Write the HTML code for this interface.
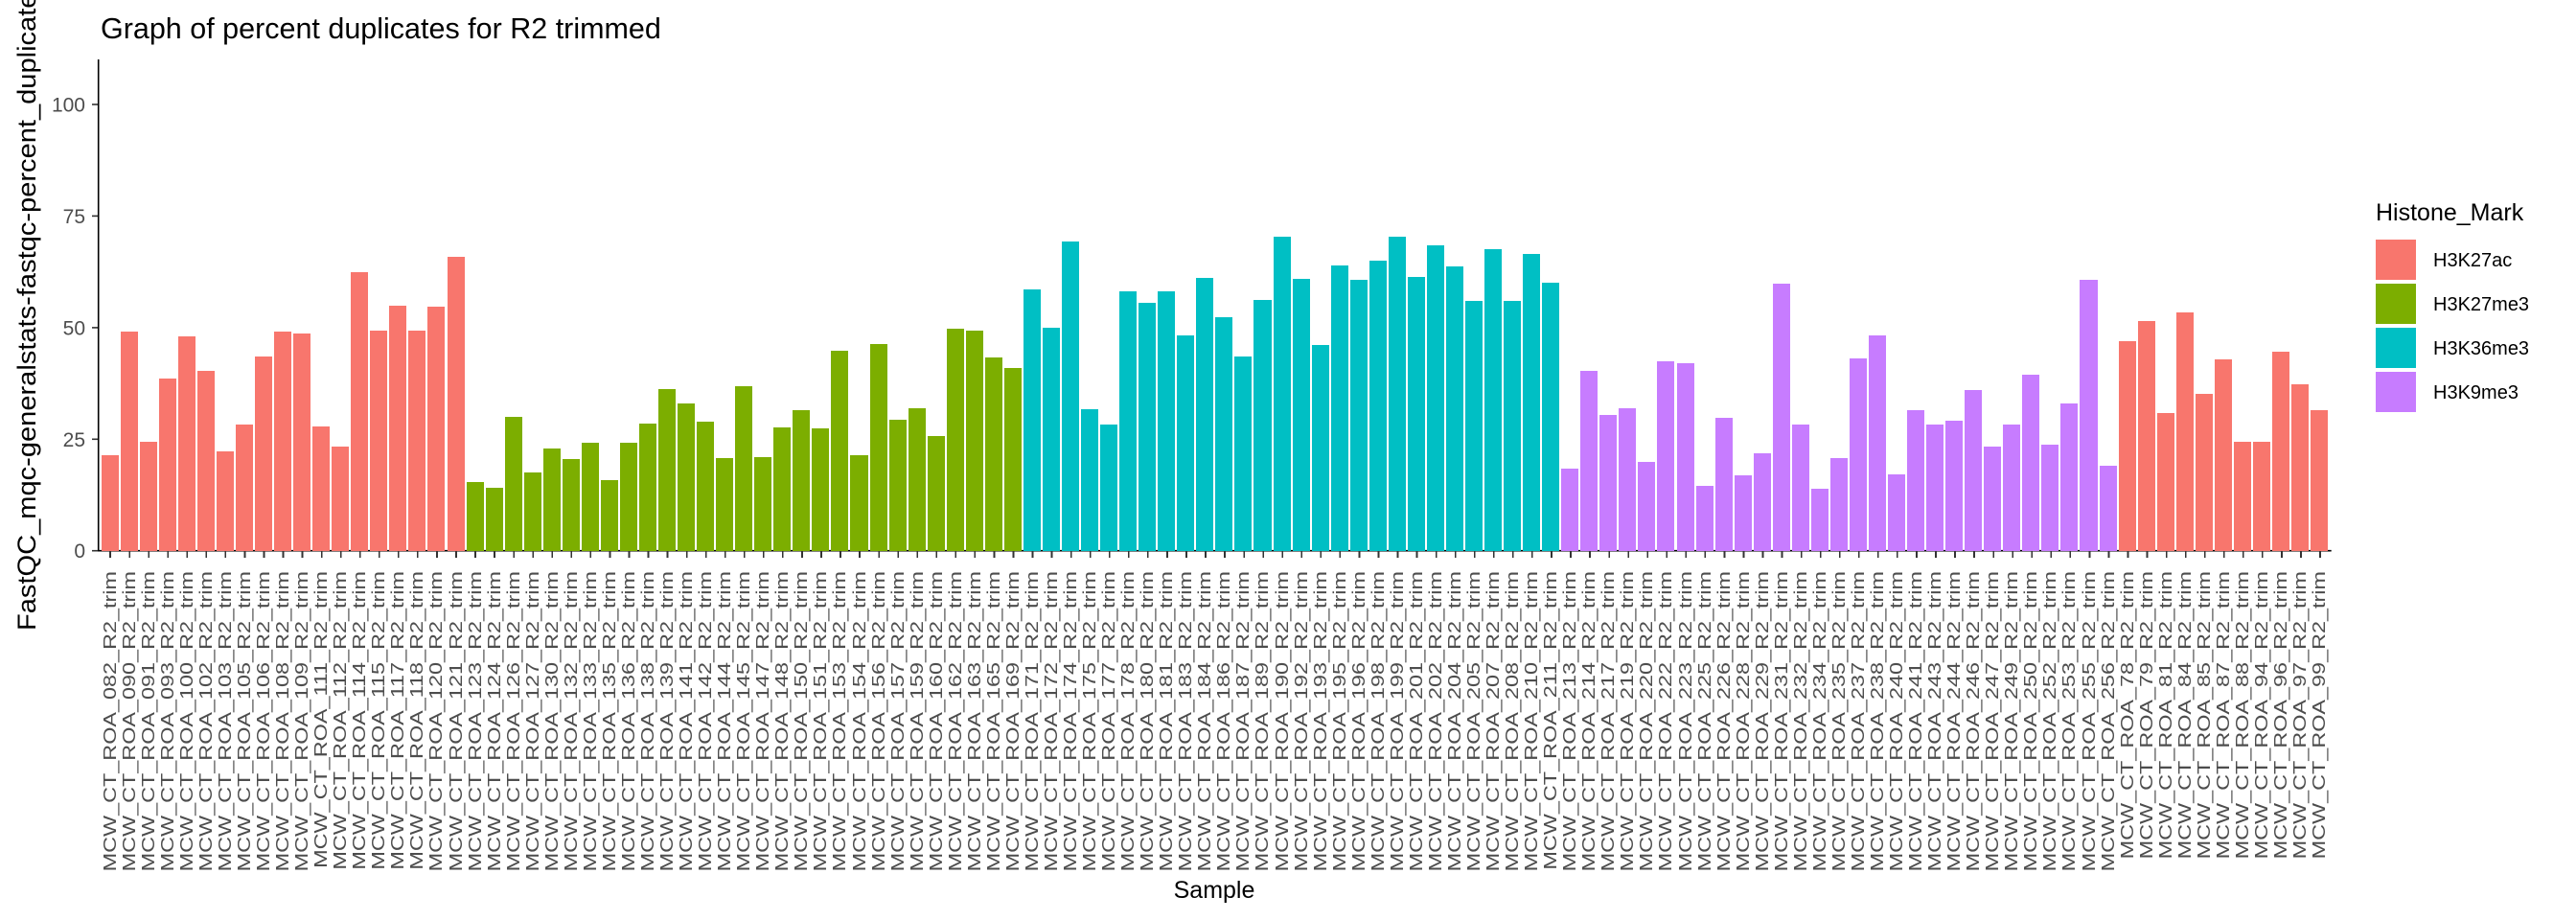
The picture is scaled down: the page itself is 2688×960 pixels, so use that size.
<!DOCTYPE html>
<html><head><meta charset="utf-8">
<style>
html,body{margin:0;padding:0;background:#fff;}
body{width:2688px;height:960px;position:relative;overflow:hidden;font-family:"Liberation Sans",Arial,sans-serif;}
svg{position:absolute;left:0;top:0;}
#bars{position:absolute;left:104.67px;top:109px;width:2326px;height:465.7px;display:flex;align-items:flex-end;}
#bars div{flex:1 1 0;height:100%;display:flex;align-items:flex-end;justify-content:center;}
#bars i{display:block;width:90%;}
.a i{background:#F8766D}.g i{background:#7CAE00}.c i{background:#00BFC4}.p i{background:#C77CFF}
#ticks{position:absolute;left:104.67px;top:575px;width:2326px;height:7px;background:repeating-linear-gradient(to right,transparent 0,transparent 9.2px,#333 9.2px,#333 10.9px,transparent 10.9px,transparent 20.052px);}
#labs{position:absolute;left:104.67px;top:596px;width:2326px;height:0;display:flex;}
#labs div{flex:1 1 0;position:relative;}
#labs span{position:absolute;left:50%;top:0;transform-origin:0 0;transform:rotate(-90deg) scaleX(1.3) translate(-100%,-50%);white-space:nowrap;font-size:18px;line-height:18px;color:#4D4D4D;}
</style></head><body>
<svg width="2688" height="960" xmlns="http://www.w3.org/2000/svg" font-family="Liberation Sans, Arial, sans-serif">
<text x="105" y="40" font-size="30.5" fill="#000">Graph of percent duplicates for R2 trimmed</text>
<line x1="102.7" y1="62" x2="102.7" y2="575.5" stroke="#000" stroke-width="1.6"/>
<line x1="102" y1="574.7" x2="2432.7" y2="574.7" stroke="#000" stroke-width="1.6"/>
<g stroke="#333" stroke-width="1.6">
<line x1="96" y1="109" x2="102" y2="109"/><line x1="96" y1="225.4" x2="102" y2="225.4"/><line x1="96" y1="341.9" x2="102" y2="341.9"/><line x1="96" y1="458.3" x2="102" y2="458.3"/><line x1="96" y1="574.7" x2="102" y2="574.7"/>
</g>
<g font-size="21" fill="#4D4D4D" text-anchor="end">
<text x="89" y="116.5">100</text><text x="89" y="232.9">75</text><text x="89" y="349.4">50</text><text x="89" y="465.8">25</text><text x="89" y="582.2">0</text>
</g>
<text transform="translate(37,318) rotate(-90)" text-anchor="middle" font-size="27" textLength="680" lengthAdjust="spacingAndGlyphs" fill="#000">FastQC_mqc-generalstats-fastqc-percent_duplicates</text>
<text x="1267" y="937" text-anchor="middle" font-size="25" fill="#000">Sample</text>
<text x="2479" y="230" font-size="25" fill="#000">Histone_Mark</text>
<rect x="2479" y="250" width="42" height="42" fill="#F8766D"/>
<rect x="2479" y="296" width="42" height="42" fill="#7CAE00"/>
<rect x="2479" y="342" width="42" height="42" fill="#00BFC4"/>
<rect x="2479" y="388" width="42" height="42" fill="#C77CFF"/>
<g font-size="20" fill="#000">
<text x="2539" y="278">H3K27ac</text><text x="2539" y="324">H3K27me3</text><text x="2539" y="370">H3K36me3</text><text x="2539" y="416">H3K9me3</text>
</g>
</svg>
<div id="bars">
<div class="a"><i style="height:21.4%"></i></div><div class="a"><i style="height:49.1%"></i></div><div class="a"><i style="height:24.5%"></i></div><div class="a"><i style="height:38.6%"></i></div><div class="a"><i style="height:48.1%"></i></div><div class="a"><i style="height:40.3%"></i></div><div class="a"><i style="height:22.3%"></i></div><div class="a"><i style="height:28.3%"></i></div><div class="a"><i style="height:43.5%"></i></div><div class="a"><i style="height:49.1%"></i></div><div class="a"><i style="height:48.7%"></i></div><div class="a"><i style="height:27.9%"></i></div><div class="a"><i style="height:23.4%"></i></div><div class="a"><i style="height:62.4%"></i></div><div class="a"><i style="height:49.4%"></i></div><div class="a"><i style="height:55.0%"></i></div><div class="a"><i style="height:49.4%"></i></div><div class="a"><i style="height:54.6%"></i></div><div class="a"><i style="height:65.9%"></i></div>
<div class="g"><i style="height:15.4%"></i></div><div class="g"><i style="height:14.1%"></i></div><div class="g"><i style="height:30.1%"></i></div><div class="g"><i style="height:17.6%"></i></div><div class="g"><i style="height:23.0%"></i></div><div class="g"><i style="height:20.6%"></i></div><div class="g"><i style="height:24.1%"></i></div><div class="g"><i style="height:15.9%"></i></div><div class="g"><i style="height:24.2%"></i></div><div class="g"><i style="height:28.6%"></i></div><div class="g"><i style="height:36.3%"></i></div><div class="g"><i style="height:33.1%"></i></div><div class="g"><i style="height:29.0%"></i></div><div class="g"><i style="height:20.8%"></i></div><div class="g"><i style="height:36.9%"></i></div><div class="g"><i style="height:21.0%"></i></div><div class="g"><i style="height:27.7%"></i></div><div class="g"><i style="height:31.4%"></i></div><div class="g"><i style="height:27.5%"></i></div><div class="g"><i style="height:44.9%"></i></div><div class="g"><i style="height:21.5%"></i></div><div class="g"><i style="height:46.4%"></i></div><div class="g"><i style="height:29.4%"></i></div><div class="g"><i style="height:32.0%"></i></div><div class="g"><i style="height:25.6%"></i></div><div class="g"><i style="height:49.8%"></i></div><div class="g"><i style="height:49.4%"></i></div><div class="g"><i style="height:43.4%"></i></div><div class="g"><i style="height:41.0%"></i></div>
<div class="c"><i style="height:58.6%"></i></div><div class="c"><i style="height:50.0%"></i></div><div class="c"><i style="height:69.4%"></i></div><div class="c"><i style="height:31.8%"></i></div><div class="c"><i style="height:28.3%"></i></div><div class="c"><i style="height:58.2%"></i></div><div class="c"><i style="height:55.6%"></i></div><div class="c"><i style="height:58.2%"></i></div><div class="c"><i style="height:48.3%"></i></div><div class="c"><i style="height:61.2%"></i></div><div class="c"><i style="height:52.4%"></i></div><div class="c"><i style="height:43.6%"></i></div><div class="c"><i style="height:56.3%"></i></div><div class="c"><i style="height:70.4%"></i></div><div class="c"><i style="height:61.0%"></i></div><div class="c"><i style="height:46.0%"></i></div><div class="c"><i style="height:64.0%"></i></div><div class="c"><i style="height:60.8%"></i></div><div class="c"><i style="height:64.9%"></i></div><div class="c"><i style="height:70.4%"></i></div><div class="c"><i style="height:61.4%"></i></div><div class="c"><i style="height:68.5%"></i></div><div class="c"><i style="height:63.8%"></i></div><div class="c"><i style="height:56.0%"></i></div><div class="c"><i style="height:67.6%"></i></div><div class="c"><i style="height:56.0%"></i></div><div class="c"><i style="height:66.4%"></i></div><div class="c"><i style="height:60.1%"></i></div>
<div class="p"><i style="height:18.5%"></i></div><div class="p"><i style="height:40.4%"></i></div><div class="p"><i style="height:30.5%"></i></div><div class="p"><i style="height:32.0%"></i></div><div class="p"><i style="height:19.8%"></i></div><div class="p"><i style="height:42.5%"></i></div><div class="p"><i style="height:42.1%"></i></div><div class="p"><i style="height:14.6%"></i></div><div class="p"><i style="height:29.8%"></i></div><div class="p"><i style="height:16.8%"></i></div><div class="p"><i style="height:21.9%"></i></div><div class="p"><i style="height:59.9%"></i></div><div class="p"><i style="height:28.3%"></i></div><div class="p"><i style="height:14.0%"></i></div><div class="p"><i style="height:20.8%"></i></div><div class="p"><i style="height:43.2%"></i></div><div class="p"><i style="height:48.3%"></i></div><div class="p"><i style="height:17.2%"></i></div><div class="p"><i style="height:31.6%"></i></div><div class="p"><i style="height:28.3%"></i></div><div class="p"><i style="height:29.2%"></i></div><div class="p"><i style="height:36.1%"></i></div><div class="p"><i style="height:23.4%"></i></div><div class="p"><i style="height:28.3%"></i></div><div class="p"><i style="height:39.5%"></i></div><div class="p"><i style="height:23.8%"></i></div><div class="p"><i style="height:33.1%"></i></div><div class="p"><i style="height:60.8%"></i></div><div class="p"><i style="height:19.1%"></i></div>
<div class="a"><i style="height:47.0%"></i></div><div class="a"><i style="height:51.5%"></i></div><div class="a"><i style="height:30.9%"></i></div><div class="a"><i style="height:53.5%"></i></div><div class="a"><i style="height:35.2%"></i></div><div class="a"><i style="height:42.9%"></i></div><div class="a"><i style="height:24.5%"></i></div><div class="a"><i style="height:24.5%"></i></div><div class="a"><i style="height:44.7%"></i></div><div class="a"><i style="height:37.4%"></i></div><div class="a"><i style="height:31.6%"></i></div>
</div>
<div id="ticks"></div>
<div id="labs">
<div><span>MCW_CT_ROA_082_R2_trim</span></div><div><span>MCW_CT_ROA_090_R2_trim</span></div><div><span>MCW_CT_ROA_091_R2_trim</span></div><div><span>MCW_CT_ROA_093_R2_trim</span></div><div><span>MCW_CT_ROA_100_R2_trim</span></div><div><span>MCW_CT_ROA_102_R2_trim</span></div><div><span>MCW_CT_ROA_103_R2_trim</span></div><div><span>MCW_CT_ROA_105_R2_trim</span></div><div><span>MCW_CT_ROA_106_R2_trim</span></div><div><span>MCW_CT_ROA_108_R2_trim</span></div><div><span>MCW_CT_ROA_109_R2_trim</span></div><div><span>MCW_CT_ROA_111_R2_trim</span></div><div><span>MCW_CT_ROA_112_R2_trim</span></div><div><span>MCW_CT_ROA_114_R2_trim</span></div><div><span>MCW_CT_ROA_115_R2_trim</span></div><div><span>MCW_CT_ROA_117_R2_trim</span></div><div><span>MCW_CT_ROA_118_R2_trim</span></div><div><span>MCW_CT_ROA_120_R2_trim</span></div><div><span>MCW_CT_ROA_121_R2_trim</span></div>
<div><span>MCW_CT_ROA_123_R2_trim</span></div><div><span>MCW_CT_ROA_124_R2_trim</span></div><div><span>MCW_CT_ROA_126_R2_trim</span></div><div><span>MCW_CT_ROA_127_R2_trim</span></div><div><span>MCW_CT_ROA_130_R2_trim</span></div><div><span>MCW_CT_ROA_132_R2_trim</span></div><div><span>MCW_CT_ROA_133_R2_trim</span></div><div><span>MCW_CT_ROA_135_R2_trim</span></div><div><span>MCW_CT_ROA_136_R2_trim</span></div><div><span>MCW_CT_ROA_138_R2_trim</span></div><div><span>MCW_CT_ROA_139_R2_trim</span></div><div><span>MCW_CT_ROA_141_R2_trim</span></div><div><span>MCW_CT_ROA_142_R2_trim</span></div><div><span>MCW_CT_ROA_144_R2_trim</span></div><div><span>MCW_CT_ROA_145_R2_trim</span></div><div><span>MCW_CT_ROA_147_R2_trim</span></div><div><span>MCW_CT_ROA_148_R2_trim</span></div><div><span>MCW_CT_ROA_150_R2_trim</span></div><div><span>MCW_CT_ROA_151_R2_trim</span></div><div><span>MCW_CT_ROA_153_R2_trim</span></div><div><span>MCW_CT_ROA_154_R2_trim</span></div><div><span>MCW_CT_ROA_156_R2_trim</span></div><div><span>MCW_CT_ROA_157_R2_trim</span></div><div><span>MCW_CT_ROA_159_R2_trim</span></div><div><span>MCW_CT_ROA_160_R2_trim</span></div><div><span>MCW_CT_ROA_162_R2_trim</span></div><div><span>MCW_CT_ROA_163_R2_trim</span></div><div><span>MCW_CT_ROA_165_R2_trim</span></div><div><span>MCW_CT_ROA_169_R2_trim</span></div>
<div><span>MCW_CT_ROA_171_R2_trim</span></div><div><span>MCW_CT_ROA_172_R2_trim</span></div><div><span>MCW_CT_ROA_174_R2_trim</span></div><div><span>MCW_CT_ROA_175_R2_trim</span></div><div><span>MCW_CT_ROA_177_R2_trim</span></div><div><span>MCW_CT_ROA_178_R2_trim</span></div><div><span>MCW_CT_ROA_180_R2_trim</span></div><div><span>MCW_CT_ROA_181_R2_trim</span></div><div><span>MCW_CT_ROA_183_R2_trim</span></div><div><span>MCW_CT_ROA_184_R2_trim</span></div><div><span>MCW_CT_ROA_186_R2_trim</span></div><div><span>MCW_CT_ROA_187_R2_trim</span></div><div><span>MCW_CT_ROA_189_R2_trim</span></div><div><span>MCW_CT_ROA_190_R2_trim</span></div><div><span>MCW_CT_ROA_192_R2_trim</span></div><div><span>MCW_CT_ROA_193_R2_trim</span></div><div><span>MCW_CT_ROA_195_R2_trim</span></div><div><span>MCW_CT_ROA_196_R2_trim</span></div><div><span>MCW_CT_ROA_198_R2_trim</span></div><div><span>MCW_CT_ROA_199_R2_trim</span></div><div><span>MCW_CT_ROA_201_R2_trim</span></div><div><span>MCW_CT_ROA_202_R2_trim</span></div><div><span>MCW_CT_ROA_204_R2_trim</span></div><div><span>MCW_CT_ROA_205_R2_trim</span></div><div><span>MCW_CT_ROA_207_R2_trim</span></div><div><span>MCW_CT_ROA_208_R2_trim</span></div><div><span>MCW_CT_ROA_210_R2_trim</span></div><div><span>MCW_CT_ROA_211_R2_trim</span></div>
<div><span>MCW_CT_ROA_213_R2_trim</span></div><div><span>MCW_CT_ROA_214_R2_trim</span></div><div><span>MCW_CT_ROA_217_R2_trim</span></div><div><span>MCW_CT_ROA_219_R2_trim</span></div><div><span>MCW_CT_ROA_220_R2_trim</span></div><div><span>MCW_CT_ROA_222_R2_trim</span></div><div><span>MCW_CT_ROA_223_R2_trim</span></div><div><span>MCW_CT_ROA_225_R2_trim</span></div><div><span>MCW_CT_ROA_226_R2_trim</span></div><div><span>MCW_CT_ROA_228_R2_trim</span></div><div><span>MCW_CT_ROA_229_R2_trim</span></div><div><span>MCW_CT_ROA_231_R2_trim</span></div><div><span>MCW_CT_ROA_232_R2_trim</span></div><div><span>MCW_CT_ROA_234_R2_trim</span></div><div><span>MCW_CT_ROA_235_R2_trim</span></div><div><span>MCW_CT_ROA_237_R2_trim</span></div><div><span>MCW_CT_ROA_238_R2_trim</span></div><div><span>MCW_CT_ROA_240_R2_trim</span></div><div><span>MCW_CT_ROA_241_R2_trim</span></div><div><span>MCW_CT_ROA_243_R2_trim</span></div><div><span>MCW_CT_ROA_244_R2_trim</span></div><div><span>MCW_CT_ROA_246_R2_trim</span></div><div><span>MCW_CT_ROA_247_R2_trim</span></div><div><span>MCW_CT_ROA_249_R2_trim</span></div><div><span>MCW_CT_ROA_250_R2_trim</span></div><div><span>MCW_CT_ROA_252_R2_trim</span></div><div><span>MCW_CT_ROA_253_R2_trim</span></div><div><span>MCW_CT_ROA_255_R2_trim</span></div><div><span>MCW_CT_ROA_256_R2_trim</span></div>
<div><span>MCW_CT_ROA_78_R2_trim</span></div><div><span>MCW_CT_ROA_79_R2_trim</span></div><div><span>MCW_CT_ROA_81_R2_trim</span></div><div><span>MCW_CT_ROA_84_R2_trim</span></div><div><span>MCW_CT_ROA_85_R2_trim</span></div><div><span>MCW_CT_ROA_87_R2_trim</span></div><div><span>MCW_CT_ROA_88_R2_trim</span></div><div><span>MCW_CT_ROA_94_R2_trim</span></div><div><span>MCW_CT_ROA_96_R2_trim</span></div><div><span>MCW_CT_ROA_97_R2_trim</span></div><div><span>MCW_CT_ROA_99_R2_trim</span></div>
</div>
</body></html>
